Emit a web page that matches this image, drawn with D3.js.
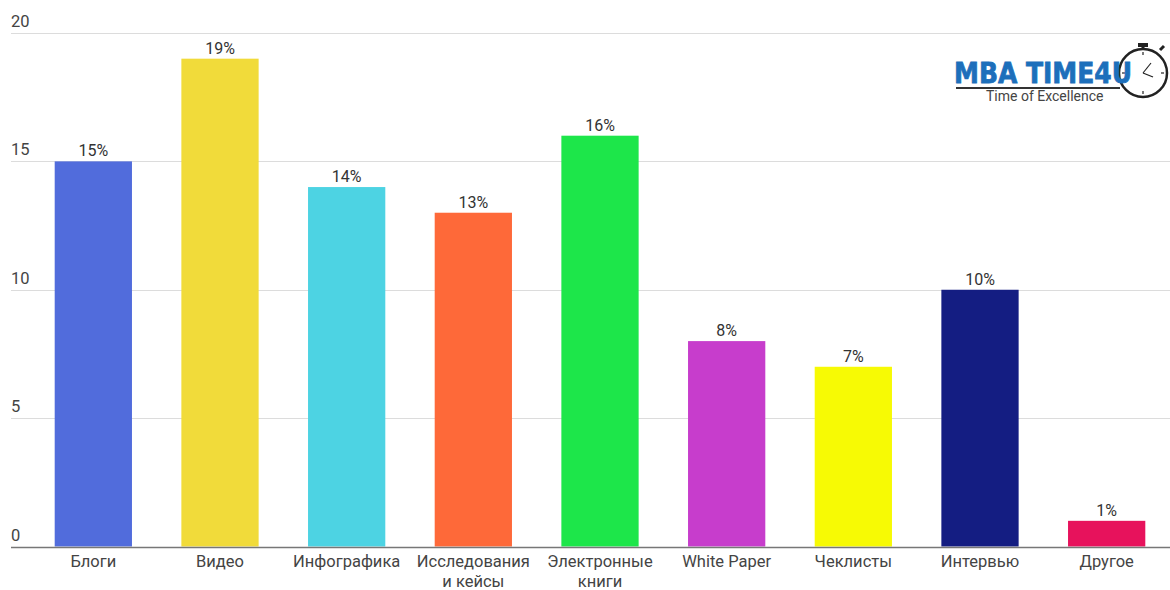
<!DOCTYPE html>
<html>
<head>
<meta charset="utf-8">
<script src="https://cdn.jsdelivr.net/npm/d3@7"></script>
<style>
  body { margin: 0; background: #fff; }
  svg { font-family: Roboto, "Noto Sans", sans-serif; }
</style>
</head>
<body>
<svg id="chart" width="1170" height="590"></svg>
<script>
// data
var categories = [["Блоги"], ["Видео"], ["Инфографика"], ["Исследования", "и кейсы"], ["Электронные", "книги"],
    ["White Paper"], ["Чеклисты"], ["Интервью"], ["Другое"]];
var values = [15, 19, 14, 13, 16, 8, 7, 10, 1];
var colors = ["#516cdc", "#f1db3a", "#4dd3e3", "#fe6939", "#1de64a", "#c73dcc", "#f7fa04", "#141d82", "#e7125c"];
var yTicks = [0, 5, 10, 15, 20];

var svg = d3.select('#chart');
var width = 1170, height = 590;
var margin = { top: 33, right: 0, bottom: 43, left: 11 };

var x = d3.scaleBand()
    .domain(d3.range(values.length))
    .range([30, width])
    .paddingInner(0.39)
    .paddingOuter(0.195);

var y = d3.scaleLinear()
    .domain([0, 20])
    .range([height - margin.bottom - 0.5, margin.top]);

// gridlines + tick labels
var grid = svg.append('g');
grid.selectAll('line')
    .data(yTicks.filter(function (d) { return d > 0; }))
    .enter().append('line')
    .attr('x1', margin.left)
    .attr('x2', width)
    .attr('y1', function (d) { return Math.round(y(d)) + 0.5; })
    .attr('y2', function (d) { return Math.round(y(d)) + 0.5; })
    .style('stroke', '#dcdcdc')
    .style('stroke-width', 1);

grid.selectAll('text')
    .data(yTicks)
    .enter().append('text')
    .attr('x', margin.left)
    .attr('y', function (d) { return y(d) - 6; })
    .style('font-size', '16.5px')
    .style('fill', '#444')
    .text(function (d) { return d; });

// bars
svg.selectAll('.bar')
    .data(values)
    .enter().append('rect')
    .attr('class', 'bar')
    .attr('x', function (d, i) { return x(i); })
    .attr('width', x.bandwidth())
    .attr('y', function (d) { return y(d); })
    .attr('height', function (d) { return y(0) - y(d); })
    .style('fill', function (d, i) { return colors[i]; });

// value labels
svg.selectAll('.val')
    .data(values)
    .enter().append('text')
    .attr('class', 'val')
    .attr('x', function (d, i) { return x(i) + x.bandwidth() / 2; })
    .attr('y', function (d) { return y(d) - 5; })
    .attr('text-anchor', 'middle')
    .style('font-size', '16px')
    .style('fill', '#333')
    .text(function (d) { return d + '%'; });

// baseline
svg.append('line')
    .attr('x1', margin.left)
    .attr('x2', width)
    .attr('y1', y(0) + 1)
    .attr('y2', y(0) + 1)
    .style('stroke', '#777')
    .style('stroke-width', 1.5);

// category labels (may be two lines)
var cat = svg.selectAll('.cat')
    .data(categories)
    .enter().append('text')
    .attr('class', 'cat')
    .attr('text-anchor', 'middle')
    .style('font-size', '16.5px')
    .style('fill', '#444');

cat.selectAll('tspan')
    .data(function (d, i) { return d.map(function (t) { return { t: t, i: i }; }); })
    .enter().append('tspan')
    .attr('x', function (d) { return x(d.i) + x.bandwidth() / 2; })
    .attr('y', function (d, j) { return 567 + j * 20; })
    .text(function (d) { return d.t; });

// logo in the top right corner
var logo = svg.append('g').attr('transform', 'translate(954,0)');

// stopwatch (drawn first, text sits on top)
var sw = logo.append('g').attr('transform', 'translate(189,73)');
sw.append('circle').attr('r', 24).style('fill', '#fff').style('stroke', '#222').style('stroke-width', 2.5);
sw.append('rect').attr('x', -5).attr('y', -30).attr('width', 10).attr('height', 4).style('fill', '#222');
sw.append('line').attr('x1', 0).attr('y1', -26).attr('x2', 0).attr('y2', -24).style('stroke', '#222').style('stroke-width', 3);
sw.append('line').attr('x1', 17).attr('y1', -23).attr('x2', 21).attr('y2', -27).style('stroke', '#222').style('stroke-width', 3);
sw.append('line').attr('x1', 0).attr('y1', 0).attr('x2', 8).attr('y2', -10).style('stroke', '#222').style('stroke-width', 1.2);
sw.append('line').attr('x1', 0).attr('y1', 0).attr('x2', 10).attr('y2', 4).style('stroke', '#222').style('stroke-width', 1.2);
[0, 90, 180, 270].forEach(function (a) {
    var r = a * Math.PI / 180;
    sw.append('line')
        .attr('x1', Math.sin(r) * 18).attr('y1', -Math.cos(r) * 18)
        .attr('x2', Math.sin(r) * 21).attr('y2', -Math.cos(r) * 21)
        .style('stroke', '#222').style('stroke-width', 1.2);
});

logo.append('line')
    .attr('x1', 2).attr('x2', 166)
    .attr('y1', 88).attr('y2', 88)
    .style('stroke', '#333')
    .style('stroke-width', 2);
logo.append('text')
    .attr('x', 0)
    .attr('y', 83)
    .attr('textLength', 178)
    .attr('lengthAdjust', 'spacingAndGlyphs')
    .style('font-family', '"DejaVu Sans", sans-serif')
    .style('font-weight', 'bold')
    .style('font-size', '28px')
    .style('fill', '#1d6fbb')
    .style('stroke', '#1d6fbb')
    .style('stroke-width', 0.8)
    .text('MBA TIME4U');
logo.append('text')
    .attr('x', 32)
    .attr('y', 101)
    .style('font-size', '14px')
    .style('fill', '#444')
    .text('Time of Excellence');
</script>
</body>
</html>
